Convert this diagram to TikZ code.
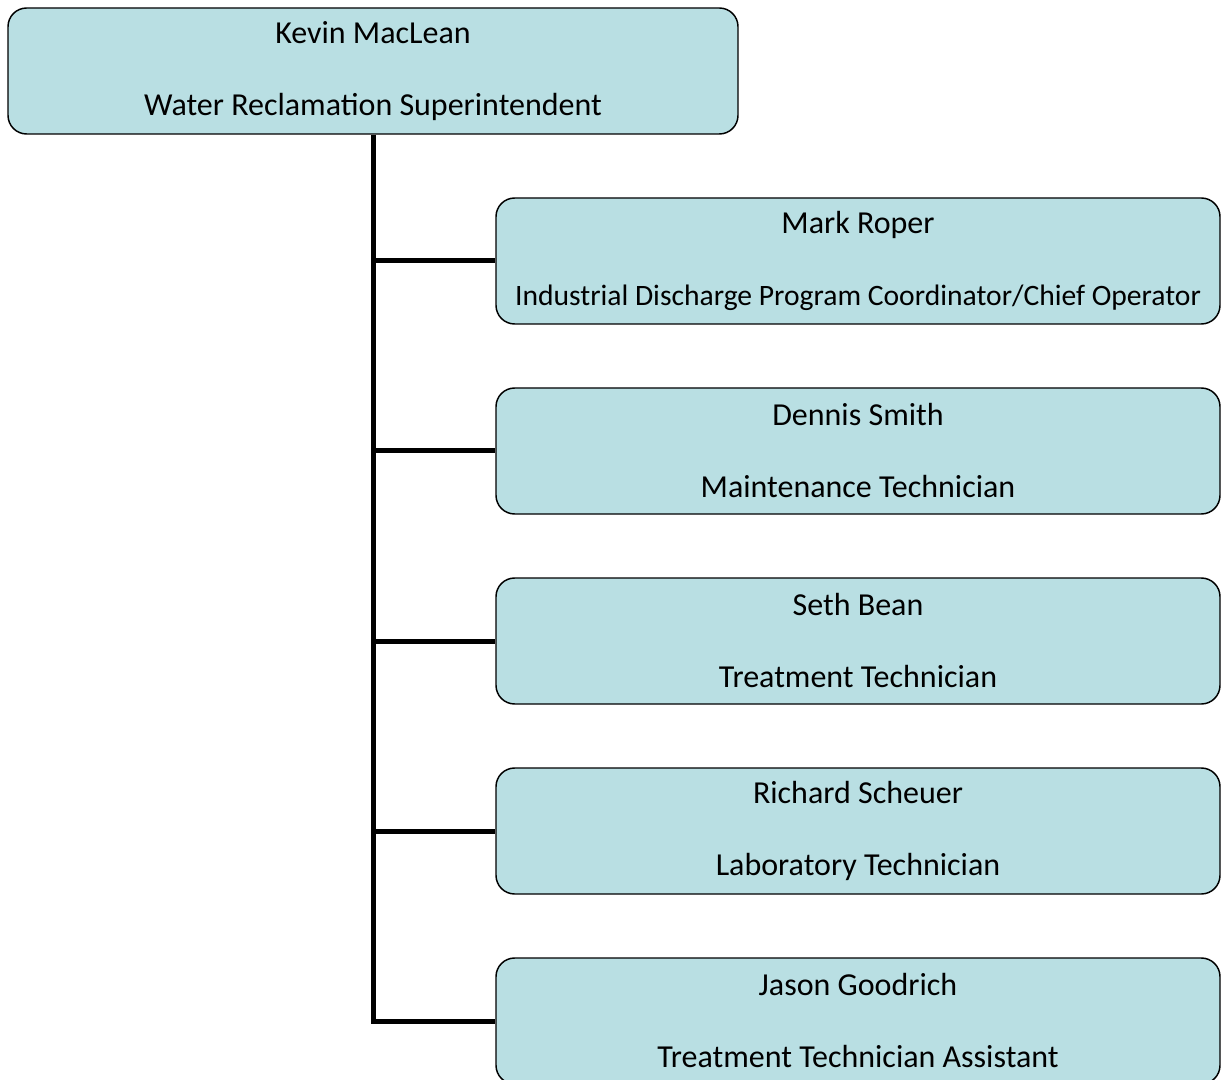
\documentclass[tikz,border=0pt]{standalone}
\usepackage{fontspec}
\setmainfont{Carlito}
\usepackage{tikz}
\usetikzlibrary{positioning}
\definecolor{boxfill}{RGB}{185,223,227}

\tikzset{
  staffbox/.style={draw=black, line width=1.1pt, fill=boxfill, rounded corners=14pt,
    align=center, inner sep=0pt, font=\fontsize{24}{27}\selectfont, minimum height=94.5pt},
  link/.style={line width=3.75pt},
}

\begin{document}
\begin{tikzpicture}[x=0.75pt, y=-0.75pt]
\useasboundingbox (0,0) rectangle (1221,1080);

% Boxes
\node[staffbox, minimum width=547.5pt] (boss) at (373,71) {Kevin MacLean\\[27pt]Water Reclamation Superintendent};
\foreach \name/\job [count=\i] in {Mark Roper/{\fontsize{22.2}{27}\selectfont Industrial Discharge Program Coordinator/Chief Operator},
    Dennis Smith/Maintenance Technician, Seth Bean/Treatment Technician,
    Richard Scheuer/Laboratory Technician, Jason Goodrich/Treatment Technician Assistant}
  \node[staffbox, minimum width=543pt] (e\i) at (858,{261+190*(\i-1)}) {\name\\[27pt]\job};

% Lines
\draw[link] (boss.south) |- (e5.west);
\foreach \i in {1,...,4}
  \draw[link] (boss.south |- e\i.west) -- (e\i.west);
\end{tikzpicture}
\end{document}
